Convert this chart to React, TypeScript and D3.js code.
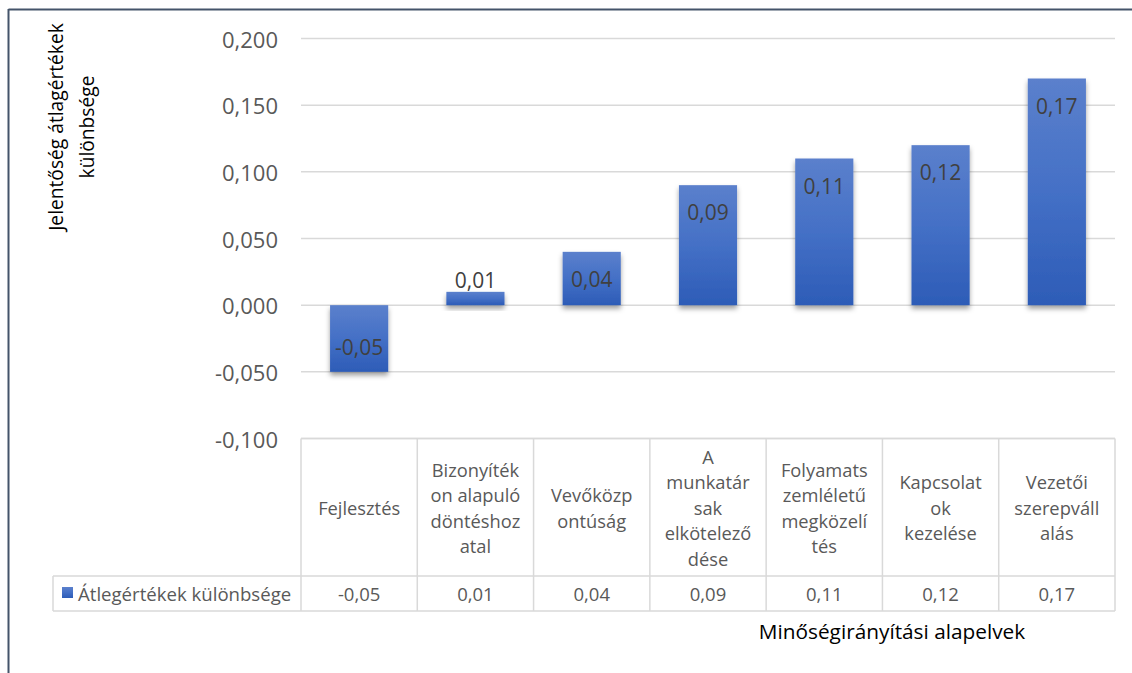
import React from "react";
import * as d3 from "d3";

const categories: string[][] = [
  ["Fejlesztés"],
  ["Bizonyíték", "on alapuló", "döntéshoz", "atal"],
  ["Vevőközp", "ontúság"],
  ["A", "munkatár", "sak", "elkötelező", "dése"],
  ["Folyamats", "zemléletű", "megközelí", "tés"],
  ["Kapcsolat", "ok", "kezelése"],
  ["Vezetői", "szerepváll", "alás"],
];
const values: number[] = [-0.05, 0.01, 0.04, 0.09, 0.11, 0.12, 0.17];
const yTicks: number[] = [-0.1, -0.05, 0, 0.05, 0.1, 0.15, 0.2];
const seriesName = "Átlegértékek különbsége";
const yTitle = ["Jelentőség átlagértékek", "különbsége"];
const xTitle = "Minőségirányítási alapelvek";

const W = 1132;
const H = 673;
const FONT = "'Open Sans', sans-serif";

export default function App() {
  const left = 301;
  const right = 1115;
  const y = d3.scaleLinear().domain([-0.1, 0.2]).range([438.5, 38.5]);
  const x = d3
    .scaleBand<number>()
    .domain(values.map((_, i) => i))
    .range([left, right])
    .paddingInner(0.5)
    .paddingOuter(0.25);
  const cols = d3
    .scaleBand<number>()
    .domain(values.map((_, i) => i))
    .range([left, right]);
  const fmt = (v: number, d: number) => d3.format(`.${d}f`)(v).replace(".", ",").replace("−", "-");
  const tableTop = y(-0.1);
  const rowSplit = 576;
  const tableBottom = 611;
  const legendLeft = 53;
  const grid = "#d9d9d9";

  return (
    <svg
      width={W}
      height={H}
      style={{ position: "absolute", left: 0, top: 0, background: "#fff" }}
      fontFamily={FONT}
    >
      <defs>
        <linearGradient id="barGrad" x1="0" y1="0" x2="0" y2="1">
          <stop offset="0%" stopColor="#5b80cc" />
          <stop offset="50%" stopColor="#4470c6" />
          <stop offset="100%" stopColor="#2d5cb7" />
        </linearGradient>
        <filter id="shadow" x="-20%" y="-20%" width="140%" height="160%">
          <feDropShadow dx="0" dy="3.5" stdDeviation="2.5" floodColor="#000" floodOpacity="0.38" />
        </filter>
      </defs>

      {/* chart border */}
      <line x1={8.5} y1={9.5} x2={W} y2={9.5} stroke="#44546a" strokeWidth={2} />
      <line x1={8.5} y1={9} x2={8.5} y2={H} stroke="#44546a" strokeWidth={2} />

      {/* gridlines */}
      {yTicks.map((t) => (
        <line key={t} x1={left} x2={right} y1={y(t)} y2={y(t)} stroke={grid} strokeWidth={1.5} />
      ))}

      {/* y tick labels */}
      {yTicks.map((t) => (
        <text
          key={"l" + t}
          x={278}
          y={y(t)}
          textAnchor="end"
          dominantBaseline="central"
          fontSize={22}
          fill="#595959"
        >
          {fmt(t, 3)}
        </text>
      ))}

      {/* bars */}
      {values.map((v, i) => {
        const y0 = y(Math.max(0, v));
        const y1 = y(Math.min(0, v));
        return (
          <rect
            key={"b" + i}
            x={x(i)}
            y={y0}
            width={x.bandwidth()}
            height={y1 - y0}
            fill="url(#barGrad)"
            filter="url(#shadow)"
          />
        );
      })}

      {/* data labels */}
      {values.map((v, i) => {
        const h = Math.abs(y(v) - y(0));
        let ly: number;
        if (h < 40) ly = y(Math.max(0, v)) - 12;
        else ly = v >= 0 ? y(v) + 27 : y(v) - 25;
        return (
          <text
            key={"d" + i}
            x={x(i)! + x.bandwidth() / 2}
            y={ly}
            textAnchor="middle"
            dominantBaseline="central"
            fontSize={21}
            fill="#404040"
          >
            {fmt(v, 2)}
          </text>
        );
      })}

      {/* data table */}
      <line x1={left} x2={right} y1={tableTop} y2={tableTop} stroke={grid} strokeWidth={1.5} />
      <line x1={legendLeft} x2={right} y1={rowSplit} y2={rowSplit} stroke={grid} strokeWidth={1.5} />
      <line x1={legendLeft} x2={right} y1={tableBottom} y2={tableBottom} stroke={grid} strokeWidth={1.5} />
      <line x1={legendLeft} x2={legendLeft} y1={rowSplit} y2={tableBottom} stroke={grid} strokeWidth={1.5} />
      {values.map((_, i) => (
        <line
          key={"v" + i}
          x1={cols(i)}
          x2={cols(i)}
          y1={tableTop}
          y2={tableBottom}
          stroke={grid}
          strokeWidth={1.5}
        />
      ))}
      <line x1={right} x2={right} y1={tableTop} y2={tableBottom} stroke={grid} strokeWidth={1.5} />

      {categories.map((lines, i) => {
        const cx = cols(i)! + cols.bandwidth() / 2;
        const lh = 25.5;
        const cy = (tableTop + rowSplit) / 2;
        const start = cy - ((lines.length - 1) * lh) / 2;
        return (
          <text key={"c" + i} textAnchor="middle" fontSize={18.3} fill="#595959">
            {lines.map((ln, j) => (
              <tspan key={j} x={cx} y={start + j * lh} dominantBaseline="central">
                {ln}
              </tspan>
            ))}
          </text>
        );
      })}

      {values.map((v, i) => (
        <text
          key={"t" + i}
          x={cols(i)! + cols.bandwidth() / 2}
          y={(rowSplit + tableBottom) / 2}
          textAnchor="middle"
          dominantBaseline="central"
          fontSize={18.5}
          fill="#595959"
        >
          {fmt(v, 2)}
        </text>
      ))}

      {/* legend cell */}
      <rect x={62} y={587} width={11} height={11} fill="url(#barGrad)" />
      <text x={78} y={(rowSplit + tableBottom) / 2} dominantBaseline="central" fontSize={18.6} fill="#595959">
        {seriesName}
      </text>

      {/* axis titles */}
      <text x={892} y={631} textAnchor="middle" dominantBaseline="central" fontSize={20.8} fill="#000">
        {xTitle}
      </text>
      <text transform="translate(0,127) rotate(-90)" textAnchor="middle" fontSize={19.2} fill="#000">
        <tspan x={0} y={63}>{yTitle[0]}</tspan>
        <tspan x={0} y={94}>{yTitle[1]}</tspan>
      </text>
    </svg>
  );
}
